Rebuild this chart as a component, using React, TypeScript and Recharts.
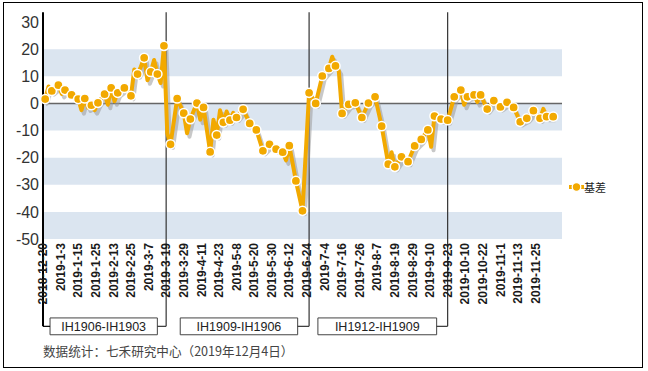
import React from 'react';
import { LineChart, Line, XAxis, YAxis, ReferenceArea, ReferenceLine } from 'recharts';

// x-axis labels, one every 8 trading days
const dateLabels = [
  '2018-12-20', '2019-1-3', '2019-1-15', '2019-1-25', '2019-2-13', '2019-2-25',
  '2019-3-7', '2019-3-19', '2019-3-29', '2019-4-11', '2019-4-23', '2019-5-8',
  '2019-5-20', '2019-5-30', '2019-6-12', '2019-6-24', '2019-7-4', '2019-7-16',
  '2019-7-26', '2019-8-7', '2019-8-19', '2019-8-29', '2019-9-10', '2019-9-23',
  '2019-10-10', '2019-10-22', '2019-11-1', '2019-11-13', '2019-11-25',
];

// trading-day index of each point (0 = 2018-12-20)
const tradeDay = [
  0, 1, 2.5, 4, 7, 8.5, 10, 13, 16, 17.5, 19, 20.5, 22, 23.5, 25, 28, 29.5, 31, 32.5, 34,
  37, 40, 41.5, 43, 44.5, 46, 47.5, 49, 50.5, 52, 53.5, 55, 56.5, 58, 61, 64, 65.5, 67, 70,
  71.5, 73, 76, 77.5, 79, 80.5, 82, 83.5, 85, 86.5, 88, 91, 94, 97, 100, 103, 106, 109,
  110.5, 112, 115, 118, 121, 124, 127, 130, 131.5, 133, 134.5, 136, 139, 142, 145, 148,
  151, 154, 157, 158.5, 160, 163, 166, 169, 172, 175, 176.5, 178, 181, 184, 187, 190,
  191.5, 193, 196, 197.5, 199, 202, 205, 208, 211, 214, 217, 220, 223, 226, 227.5, 229, 232,
];

// 基差 values
const basis = [
  0.8, 1.6, 6.2, 4.6, 6.7, 3.5, 4.9, 3.1, 1.6, -2.5, 1.8, -1.5, -0.7, -2.5, 0.2, 3.4, -0.5, 5.7, 0.8, 3.9,
  5.7, 2.8, 12.5, 10.8, 13.5, 16.8, 8.5, 11.6, 16.0, 10.8, 7.5, 21.2, -11, -15.1, 1.8, -3.6, -11, -5.8, 0.1,
  -6, -1.5, -17.9, -6, -11.7, -2.5, -7.0, -3, -6.2, -3.5, -5.2, -2.2, -7.4, -9.8, -17.5, -15.1, -16.9, -18.0,
  -21, -15.6, -28.6, -39.6, 3.9, 0, 10.1, 12.9, 17.2, 13.8, 12, -3.7, -0.4, 0.2, -5.2, 0.1,
  2.4, -8.4, -22.4, -18, -23.4, -19.7, -21.5, -15.7, -13.3, -9.8, -16, -4.7, -5.8, -6.2, 2.4, 4.9,
  -0.5, 2.4, 3.1, 0.5, 3.1, -2.1, 1.0, -1.3, 0.4, -1.5, -6.8, -5.5, -2.7, -5.5, -2, -4.9, -4.9,
];

const yTicks = [-50, -40, -30, -20, -10, 0, 10, 20, 30];
const bands = [[10, 20], [-10, 0], [-30, -20], [-50, -40]];

// contract rolls
const contracts = ['IH1906-IH1903', 'IH1909-IH1906', 'IH1912-IH1909'];
const rollDays = [56, 121, 184];
const boxSpans = [[3.2, 52], [62.4, 115.8], [125, 179]];

const data = tradeDay.map((d, k) => ({ d, v: basis[k] }));
// drop shadow: same series nudged right/down a little
const shadowData = data.map((p) => ({ d: p.d + 1.1, v: p.v - 1.3 }));
const tickDays = dateLabels.map((_, k) => k * 8);

const ORANGE = '#f2a900';
const LINE_TOP = 33.6;
const BRACKET_Y = -82.2;
const BOX_TOP = -79.1;
const BOX_BOTTOM = -85.3;

const DateTick = ({ x, y, payload }: any) => (
  <text
    x={x}
    y={y}
    dx={-4}
    dy="0.35em"
    transform={`rotate(-90, ${x}, ${y})`}
    textAnchor="end"
    fontSize={12}
    fontWeight="bold"
    fill="#1a1a1a"
  >
    {dateLabels[Math.round(payload.value / 8)]}
  </text>
);

const renderDot = (p: any) => {
  const key = `dot-${p.index}`;
  if (p.payload.d % 3 !== 1) return <g key={key} />;
  return <circle key={key} cx={p.cx} cy={p.cy} r={4.6} fill={ORANGE} stroke="#fff" strokeWidth={1.5} />;
};

export default function App() {
  return (
    <div
      style={{
        position: 'absolute',
        left: 3,
        top: 2,
        width: 640,
        height: 366,
        border: '1px solid #000',
        boxSizing: 'border-box',
        background: '#fff',
        fontFamily: '"Liberation Sans", Arial, sans-serif',
      }}
    >
      <LineChart width={638} height={364} data={data} margin={{ top: 19, right: 80, bottom: 68, left: 0 }}>
        <XAxis
          type="number"
          dataKey="d"
          domain={[0, 236]}
          ticks={tickDays}
          interval={0}
          tick={DateTick}
          tickLine={false}
          axisLine={false}
          tickSize={0}
          tickMargin={0}
          height={60}
        />
        <YAxis
          type="number"
          domain={[-50, 30]}
          ticks={yTicks}
          interval={0}
          axisLine={false}
          tickLine={false}
          tickSize={0}
          tickMargin={4}
          width={39}
          tick={{ fontSize: 16, fill: '#333' }}
        />

        {bands.map(([a, b]) => (
          <ReferenceArea key={`band${a}`} y1={a} y2={b} fill="#dbe5f0" fillOpacity={1} stroke="none" />
        ))}
        <ReferenceLine y={0} stroke="#666" strokeWidth={1.5} />

        {/* y axis line running down into the bracket */}
        <ReferenceLine
          segment={[{ x: 0, y: LINE_TOP }, { x: 0, y: BRACKET_Y }]}
          stroke="#000"
          strokeWidth={2}
          ifOverflow="visible"
        />
        <ReferenceLine
          segment={[{ x: 0, y: BRACKET_Y }, { x: boxSpans[0][0], y: BRACKET_Y }]}
          stroke="#000"
          strokeWidth={1.2}
          ifOverflow="visible"
        />
        {rollDays.map((d) => (
          <ReferenceLine
            key={`roll${d}`}
            segment={[{ x: d, y: LINE_TOP }, { x: d, y: BRACKET_Y }]}
            stroke="#333"
            strokeWidth={1.2}
            ifOverflow="visible"
          />
        ))}
        {rollDays.map((d, k) => (
          <ReferenceLine
            key={`conn${d}`}
            segment={[{ x: boxSpans[k][1], y: BRACKET_Y }, { x: d, y: BRACKET_Y }]}
            stroke="#333"
            strokeWidth={1.2}
            ifOverflow="visible"
          />
        ))}
        {contracts.map((c, k) => (
          <ReferenceArea
            key={c}
            x1={boxSpans[k][0]}
            x2={boxSpans[k][1]}
            y1={BOX_TOP}
            y2={BOX_BOTTOM}
            fill="#fff"
            fillOpacity={1}
            stroke="#444"
            strokeWidth={1}
            ifOverflow="visible"
            label={{ value: c, position: 'center', fill: '#222', fontSize: 12.5 }}
          />
        ))}

        <Line
          data={shadowData}
          type="linear"
          dataKey="v"
          stroke="#9a9a9a"
          strokeOpacity={0.55}
          strokeWidth={4}
          strokeLinejoin="round"
          dot={false}
          activeDot={false}
          legendType="none"
          isAnimationActive={false}
        />
        <Line
          type="linear"
          dataKey="v"
          stroke={ORANGE}
          strokeWidth={4}
          strokeLinejoin="round"
          dot={renderDot}
          activeDot={false}
          isAnimationActive={false}
        />
      </LineChart>

      <div style={{ position: 'absolute', left: 565, top: 176, display: 'flex', alignItems: 'center' }}>
        <svg width={15} height={12}>
          <line x1={0} y1={6} x2={15} y2={6} stroke={ORANGE} strokeWidth={4} />
          <circle cx={7.5} cy={6} r={4.3} fill={ORANGE} stroke="#fff" strokeWidth={1.3} />
        </svg>
        <span style={{ fontSize: 11, color: '#222', fontFamily: '"Noto Sans CJK SC", sans-serif' }}>
          基差
        </span>
      </div>

      <div
        style={{
          position: 'absolute',
          left: 39,
          top: 341,
          fontSize: 12.6,
          lineHeight: '14px',
          color: '#444',
          fontFamily: '"Noto Sans CJK SC", sans-serif',
          whiteSpace: 'nowrap',
        }}
      >
        数据统计：七禾研究中心（2019年12月4日）
      </div>
    </div>
  );
}
